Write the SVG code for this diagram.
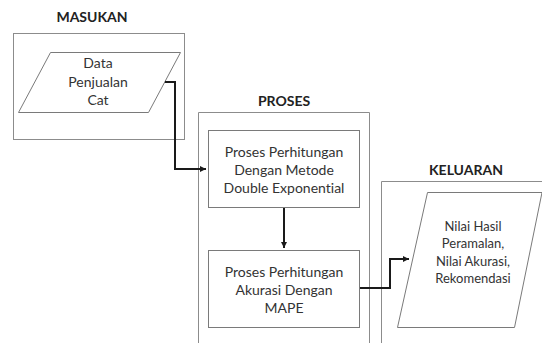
<svg xmlns="http://www.w3.org/2000/svg" width="542" height="343" viewBox="0 0 542 343">
<defs>
<style>
.frame{fill:none;stroke:#8c8c8c;stroke-width:1}
.node{fill:#fff;stroke:#7a7a7a;stroke-width:1}
.t{font-family:Lato,"Liberation Sans",sans-serif;font-size:14px;fill:#333;text-anchor:middle;font-variant-ligatures:none}
.s{font-size:13px}
.h{font-family:Lato,"Liberation Sans",sans-serif;font-size:14px;font-weight:bold;fill:#222;text-anchor:middle}
.conn{fill:none;stroke:#1a1a1a;stroke-width:2}
</style>
<marker id="arr" markerWidth="8" markerHeight="8" refX="6" refY="3" orient="auto" markerUnits="userSpaceOnUse">
<path d="M0,0 L6,3 L0,6 Z" fill="#1a1a1a"/>
</marker>
</defs>
<rect width="542" height="343" fill="#fff"/>
<g id="masukan">
<rect class="frame" x="13.5" y="33.5" width="171" height="106"/>
<text class="h" x="92" y="22">MASUKAN</text>
</g>
<g id="proses">
<path class="frame" d="M198.5,343 V112.5 H369.5 V343"/>
<text class="h" x="284" y="106">PROSES</text>
</g>
<g id="keluaran">
<path class="frame" d="M381.5,343 V181.5 H542"/>
<text class="h" x="466" y="175">KELUARAN</text>
</g>
<g id="data">
<polygon class="node" points="50.5,52.5 180.5,52.5 148.5,112.5 18.5,112.5"/>
<text class="t" x="98" y="68">Data</text>
<text class="t" x="98" y="87">Penjualan</text>
<text class="t" x="98" y="105">Cat</text>
</g>
<g id="proses1">
<rect class="node" x="208.5" y="130.5" width="151" height="77"/>
<text class="t" x="284" y="157">Proses Perhitungan</text>
<text class="t" x="284" y="175">Dengan Metode</text>
<text class="t" x="284" y="193">Double Exponential</text>
</g>
<g id="proses2">
<rect class="node" x="208.5" y="250.5" width="151" height="77"/>
<text class="t" x="284" y="277">Proses Perhitungan</text>
<text class="t" x="284" y="295">Akurasi Dengan</text>
<text class="t" x="284" y="313">MAPE</text>
</g>
<g id="hasil">
<polygon class="node" points="427.5,192.5 542,192.5 514.5,327.5 397.5,327.5"/>
<text class="t s" x="473" y="231">Nilai Hasil</text>
<text class="t s" x="473" y="248">Peramalan,</text>
<text class="t s" x="473" y="266">Nilai Akurasi,</text>
<text class="t s" x="473" y="283">Rekomendasi</text>
</g>
<g id="connectors">
<path class="conn" d="M165,82 H175 V169 H206" marker-end="url(#arr)"/>
<path class="conn" d="M284,208 V248" marker-end="url(#arr)"/>
<path class="conn" d="M360,288 H390 V259 H409" marker-end="url(#arr)"/>
</g>
</svg>
